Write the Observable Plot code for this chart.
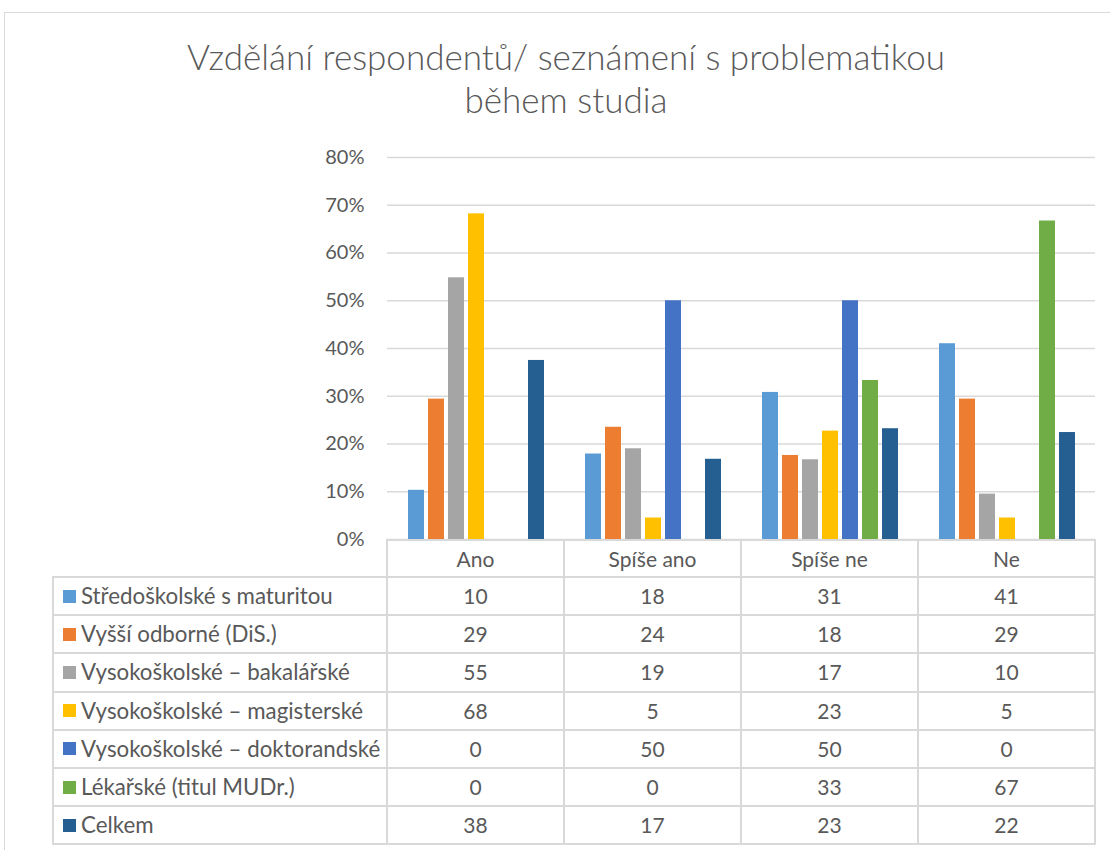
<!DOCTYPE html>
<html>
<head>
<meta charset="utf-8">
<script src="https://cdn.jsdelivr.net/npm/d3@7"></script>
<script src="https://cdn.jsdelivr.net/npm/@observablehq/plot@0.6"></script>
<style>
  body { margin: 0; background: #fff; }
  #wrap { position: relative; width: 1110px; height: 850px; overflow: hidden; font-family: Lato, "Open Sans", sans-serif; color: #595959; }
  #frame { position: absolute; left: 4px; top: 12px; width: 1200px; height: 1000px; border: 1.5px solid #D9D9D9; box-sizing: border-box; }
  #chart { position: absolute; left: 0; top: 0; }
  .title { position: absolute; left: 0; width: 1132px; text-align: center; font-weight: 300; font-size: 35px; line-height: 43px; white-space: nowrap; }
  .hl { position: absolute; height: 2px; background: #D9D9D9; }
  .vl { position: absolute; width: 2px; background: #D9D9D9; }
  .cell { position: absolute; font-size: 21px; white-space: nowrap; }
  .lab { font-size: 22.3px; }
  .c { text-align: center; }
  .sw { position: absolute; width: 13px; height: 13px; }
</style>
</head>
<body>
<div id="wrap">
  <div id="frame"></div>
  <div id="chart"></div>
</div>
<script>
// ---- data ----
const categories = ["Ano", "Spíše ano", "Spíše ne", "Ne"];
const series = [
  "Středoškolské s maturitou",
  "Vyšší odborné (DiS.)",
  "Vysokoškolské – bakalářské",
  "Vysokoškolské – magisterské",
  "Vysokoškolské – doktorandské",
  "Lékařské (titul MUDr.)",
  "Celkem"
];
const colors = ["#5B9BD5", "#ED7D31", "#A5A5A5", "#FFC000", "#4472C4", "#70AD47", "#255E91"];
const stredoskolske = [10.3, 17.9, 30.8, 41.0];
const vyssiOdborne = [29.4, 23.5, 17.6, 29.4];
const bakalarske = [54.8, 19.0, 16.7, 9.5];
const magisterske = [68.2, 4.5, 22.7, 4.5];
const doktorandske = [0, 50, 50, 0];
const lekarske = [0, 0, 33.3, 66.7];
const celkem = [37.5, 16.8, 23.2, 22.4];
const yTicks = [0, 10, 20, 30, 40, 50, 60, 70, 80];
const titleLines = ["Vzdělání respondentů/ seznámení s problematikou", "během studia"];

const seriesValues = [stredoskolske, vyssiOdborne, bakalarske, magisterske, doktorandske, lekarske, celkem];
const rows = [];
seriesValues.forEach((vals, si) => vals.forEach((v, ci) => rows.push({cat: categories[ci], series: series[si], value: v})));

// ---- chart ----
const chart = Plot.plot({
  width: 1110,
  height: 560,
  marginLeft: 386,
  marginRight: 15,
  marginTop: 157,
  marginBottom: 21,
  style: {background: "none", fontFamily: "Lato, 'Open Sans', sans-serif", fontSize: "20px", color: "#595959", overflow: "visible"},
  fx: {domain: categories, padding: 0, axis: null, label: null},
  x: {domain: series, paddingInner: 0.2, paddingOuter: 0.84, axis: null, label: null},
  y: {domain: [0, 80], axis: null, label: null},
  color: {domain: series, range: colors},
  marks: [
    Plot.ruleY(yTicks, {stroke: "#D9D9D9", strokeWidth: 1.5}),
    Plot.barY(rows, {fx: "cat", x: "series", y: "value", fill: "series"}),
    Plot.axisY(yTicks, {tickSize: 0, tickPadding: 23, tickFormat: d => d + "%", color: "#595959", label: null})
  ]
});
document.getElementById("chart").appendChild(chart);

const wrap = document.getElementById("wrap");
function add(cls, css, text) {
  const d = document.createElement("div");
  d.className = cls;
  Object.assign(d.style, css);
  if (text != null) d.textContent = text;
  wrap.appendChild(d);
  return d;
}

// title
titleLines.forEach((t, i) => add("title", {top: (35 + i * 43) + "px"}, t));

// ---- data table aligned to fx scale ----
const fxs = chart.scale("fx");
const bw = fxs.bandwidth;
const colX = categories.map(c => fxs.apply ? fxs.apply(c) : d3.scaleBand().domain(fxs.domain).range(fxs.range).padding(0)(c));
const tableLeft = 53;
const tableRight = colX[colX.length - 1] + bw;
const headTop = 540;
const bodyTop = 577;
const rowH = 38.2;
const bottom = bodyTop + rowH * series.length;

// header texts
categories.forEach((c, i) => add("cell c", {left: colX[i] + "px", width: bw + "px", top: headTop + "px", height: (bodyTop - headTop) + "px", lineHeight: (bodyTop - headTop) + "px"}, c));
// horizontal lines
add("hl", {left: colX[0] - 1 + "px", width: (tableRight - colX[0] + 2) + "px", top: (headTop - 1) + "px"});
for (let i = 0; i <= series.length; i++) {
  add("hl", {left: (tableLeft - 1) + "px", width: (tableRight - tableLeft + 2) + "px", top: (bodyTop + i * rowH - 1) + "px"});
}
// vertical lines
add("vl", {left: (tableLeft - 1) + "px", top: bodyTop + "px", height: (bottom - bodyTop) + "px"});
colX.concat([tableRight]).forEach(x => add("vl", {left: (x - 1) + "px", top: headTop + "px", height: (bottom - headTop) + "px"}));
// body rows
series.forEach((s, si) => {
  const top = bodyTop + si * rowH;
  add("sw", {left: "63px", top: (top + rowH / 2 - 6.5) + "px", background: colors[si]});
  add("cell lab", {left: "81px", top: top + "px", height: rowH + "px", lineHeight: rowH + "px"}, s);
  seriesValues[si].forEach((v, ci) => add("cell c", {left: colX[ci] + "px", width: bw + "px", top: top + "px", height: rowH + "px", lineHeight: rowH + "px"}, String(Math.round(v))));
});
</script>
</body>
</html>
